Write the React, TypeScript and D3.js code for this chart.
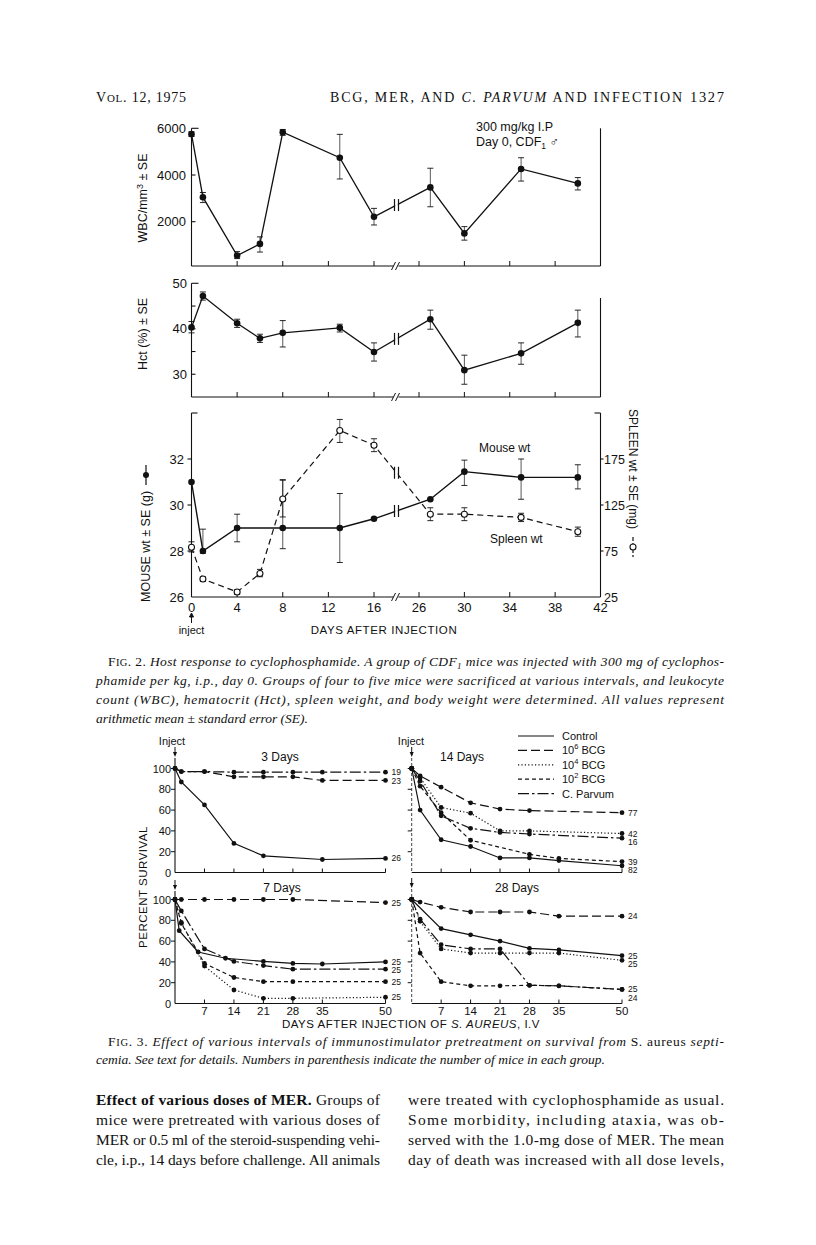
import React from "react";
import * as d3 from "d3";

// ---------------- Fig. 2 data ----------------
const fig2Days = [0, 1, 4, 6, 8, 13, 16, 27, 30, 35, 40];
const wbcMean = [5750, 3050, 550, 1050, 5830, 4740, 2210, 3470, 1500, 4260, 3640];
const wbcLow = [5650, 2820, 420, 700, 5700, 3830, 1860, 2640, 1210, 3740, 3360];
const wbcHigh = [5850, 3250, 720, 1350, 5950, 5740, 2570, 4290, 1790, 4740, 3890];
const hctMean = [40.3, 47.2, 41.2, 37.9, 39.1, 40.2, 34.9, 42.1, 30.9, 34.6, 41.3];
const hctLow = [39.1, 46.3, 40.3, 37.0, 36.0, 39.3, 32.9, 39.9, 27.8, 32.2, 38.2];
const hctHigh = [41.6, 48.1, 42.1, 38.8, 41.8, 41.0, 36.9, 44.1, 34.2, 36.9, 44.1];
const mouseDays = [0, 1, 4, 8, 13, 16, 27, 30, 35, 40];
const mouseMean = [31.0, 28.0, 29.0, 29.0, 29.0, 29.4, 30.25, 31.45, 31.2, 31.2];
const mouseLow = [31.0, 27.9, 28.4, 28.1, 27.5, 29.4, 30.25, 30.85, 30.25, 30.7];
const mouseHigh = [31.0, 28.95, 29.6, 31.1, 30.5, 29.4, 30.25, 31.95, 32.0, 31.75];
const spleenDays = [0, 1, 4, 6, 8, 13, 16, 27, 30, 35, 40];
const spleenMean = [79, 44.5, 30.5, 50.5, 131.5, 206, 190, 115, 115, 111.5, 96];
const spleenLow = [74, 42, 28, 47, 112, 193, 183, 108, 108, 107, 91];
const spleenHigh = [85, 47, 33, 55, 152, 218, 197, 122, 122, 116, 101];

const fig2XTicks = [0, 4, 8, 12, 16, 26, 30, 34, 38, 42];
const wbcTicks = [2000, 4000, 6000];
const hctTicks = [30, 35, 40, 45, 50];
const hctTickLabels = [30, 40, 50];
const mouseTicks = [26, 28, 30, 32];
const spleenTicks = [25, 75, 125, 175];

// ---------------- Fig. 3 data ----------------
const survTicks = [0, 20, 40, 60, 80, 100];
const dayTicks = [7, 14, 21, 28, 35, 50];

// 3 days
const d3Control: [number, number][] = [[0, 100], [1.5, 87], [7, 65], [14, 28], [21, 16], [35, 12.5], [50, 13.5]];
const d3Bcg6: [number, number][] = [[0, 100], [1.5, 97], [7, 97], [14, 92], [21, 92], [28, 92], [35, 88.5], [50, 88.5]];
const d3CParvum: [number, number][] = [[0, 100], [1.5, 97], [7, 97], [14, 96.5], [21, 96.5], [28, 96.5], [35, 96.5], [50, 96.5]];
const d3Labels = ["26", "23", "19"];

// 14 days
const d14Control: [number, number][] = [[0, 100], [2, 60], [7, 31.5], [14, 25], [21, 14], [28, 14], [35, 11.5], [50, 6.5]];
const d14Bcg6: [number, number][] = [[0, 100], [2, 93], [7, 82], [14, 67], [21, 61], [28, 59.5], [50, 57.5]];
const d14Bcg4: [number, number][] = [[0, 100], [2, 91], [7, 62.5], [14, 57], [21, 40], [28, 40], [50, 37.5]];
const d14Bcg2: [number, number][] = [[0, 100], [2, 83], [7, 57.5], [14, 31], [28, 17.5], [35, 13.5], [50, 10.5]];
const d14CParvum: [number, number][] = [[0, 100], [2, 88], [7, 54.5], [14, 42.5], [21, 38.5], [28, 37], [50, 33]];
const d14Labels = ["82", "77", "42", "39", "16"];

// 7 days
const d7Control: [number, number][] = [[0, 100], [1, 70], [5.5, 49.5], [12, 43.5], [21, 40.5], [28, 38.5], [35, 38], [50, 40]];
const d7Bcg6: [number, number][] = [[0, 100], [1.5, 100], [7, 100], [14, 100], [21, 100], [28, 100], [50, 97]];
const d7Bcg4: [number, number][] = [[0, 100], [1.5, 78], [7, 36], [14, 13], [21, 5], [28, 5], [50, 6]];
const d7Bcg2: [number, number][] = [[0, 100], [1.5, 77], [7, 38.5], [14, 25], [21, 21], [28, 21], [50, 21]];
const d7CParvum: [number, number][] = [[0, 100], [1.5, 89], [7, 52.5], [14, 40.5], [21, 36.5], [28, 33], [50, 33]];
const d7Labels = ["25", "25", "25", "25", "25"];

// 28 days
const d28Control: [number, number][] = [[0, 100], [7, 72], [14, 66], [21, 60], [28, 53], [35, 51.5], [50, 46]];
const d28Bcg6: [number, number][] = [[0, 100], [2, 97.5], [7, 92.5], [14, 88], [21, 88], [28, 88], [35, 84], [50, 84]];
const d28Bcg4: [number, number][] = [[0, 100], [2, 79], [7, 52.5], [14, 48.5], [21, 48.5], [28, 48.5], [35, 48.5], [50, 41.5]];
const d28Bcg2: [number, number][] = [[0, 100], [2, 48.5], [7, 21], [14, 17], [21, 17], [28, 17.5], [35, 17], [50, 13.5]];
const d28CParvum: [number, number][] = [[0, 100], [2, 81], [7, 56.5], [14, 52.5], [21, 52.5], [28, 17.5], [35, 17], [50, 13.5]];
const d28Labels = ["25", "24", "25", "25", "24"];

const legendKeys = ["control", "bcg6", "bcg4", "bcg2", "cparvum"];
const legendNames = ["Control", "10|6| BCG", "10|4| BCG", "10|2| BCG", "C. Parvum"];

// ---------------- styles ----------------
const SANS = "'Liberation Sans', Arial, Helvetica, sans-serif";
const SERIF = "'Liberation Serif', 'Times New Roman', serif";
const INK = "#111";
const DASH: Record<string, string | undefined> = {
  control: undefined,
  bcg6: "9,4",
  bcg4: "1.2,2.2",
  bcg2: "4,3",
  cparvum: "11,3,2.5,3",
};

// ---------------- scales ----------------
const xF2 = d3.scaleLinear().domain([0, 16, 26, 42]).range([191.5, 374, 419, 600.5]);
const yWbc = d3.scaleLinear().domain([0, 6000]).range([268.4, 128.3]);
const yHct = d3.scaleLinear().domain([25, 50]).range([397, 283.3]);
const yMouse = d3.scaleLinear().domain([26, 34]).range([597, 413]);
const ySpleen = d3.scaleLinear().domain([25, 225]).range([597, 413]);

const xLeft = d3.scaleLinear().domain([0, 50]).range([175, 385.5]);
const xRight = d3.scaleLinear().domain([0, 50]).range([411.7, 622]);
const yTopRow = d3.scaleLinear().domain([0, 100]).range([872.5, 768.5]);
const yBotRow = d3.scaleLinear().domain([0, 100]).range([1003.5, 899.5]);

const breakX = (xF2(16) + xF2(26)) / 2;

function ErrBars({ days, low, high, ys }: { days: number[]; low: number[]; high: number[]; ys: d3.ScaleLinear<number, number> }) {
  return (
    <g stroke={INK} strokeWidth={0.9}>
      {days.map((d, i) => {
        if (high[i] - low[i] < 1e-6) return null;
        const x = xF2(d);
        return (
          <g key={i}>
            <line x1={x} x2={x} y1={ys(low[i])} y2={ys(high[i])} strokeWidth={0.7} />
            <line x1={x - 3} x2={x + 3} y1={ys(low[i])} y2={ys(low[i])} />
            <line x1={x - 3} x2={x + 3} y1={ys(high[i])} y2={ys(high[i])} />
          </g>
        );
      })}
    </g>
  );
}

function LineBreak({ days, vals, ys }: { days: number[]; vals: number[]; ys: d3.ScaleLinear<number, number> }) {
  const i = days.findIndex((d) => d > 20);
  const x1 = xF2(days[i - 1]);
  const y1 = ys(vals[i - 1]);
  const x2 = xF2(days[i]);
  const y2 = ys(vals[i]);
  const t = (breakX - x1) / (x2 - x1);
  const yb = y1 + t * (y2 - y1);
  return (
    <g stroke={INK} strokeWidth={1.2}>
      <rect x={breakX - 1.3} y={yb - 4} width={2.6} height={8} fill="#fff" stroke="none" />
      <line x1={breakX - 2} x2={breakX - 2} y1={yb - 6} y2={yb + 6} />
      <line x1={breakX + 2} x2={breakX + 2} y1={yb - 6} y2={yb + 6} />
    </g>
  );
}

function AxisBreak({ y }: { y: number }) {
  return (
    <g stroke={INK} strokeWidth={1}>
      <rect x={breakX - 3} y={y - 2} width={5} height={4} fill="#fff" stroke="none" />
      <line x1={breakX - 5} y1={y + 4} x2={breakX - 1} y2={y - 4} />
      <line x1={breakX - 1} y1={y + 4} x2={breakX + 3} y2={y - 4} />
    </g>
  );
}

function XTicks({ y }: { y: number }) {
  return (
    <g stroke={INK} strokeWidth={1}>
      {fig2XTicks.slice(1, -1).map((t) => (
        <line key={t} x1={xF2(t)} x2={xF2(t)} y1={y} y2={y - 5} />
      ))}
    </g>
  );
}

function Fig2() {
  const wbcLine = d3.line<number>().x((_, i) => xF2(fig2Days[i])).y((d) => yWbc(d))(wbcMean) || "";
  const hctLine = d3.line<number>().x((_, i) => xF2(fig2Days[i])).y((d) => yHct(d))(hctMean) || "";
  const mouseLine = d3.line<number>().x((_, i) => xF2(mouseDays[i])).y((d) => yMouse(d))(mouseMean) || "";
  const spleenLine = d3.line<number>().x((_, i) => xF2(spleenDays[i])).y((d) => ySpleen(d))(spleenMean) || "";
  const L = xF2(0);
  const R = xF2(42);
  const wbcAxisY = 266;
  const hctAxisY = yHct(25);
  const botAxisY = yMouse(26);
  return (
    <g fontFamily={SANS} fill={INK}>
      {/* ---- WBC panel ---- */}
      <g stroke={INK} strokeWidth={1.1} fill="none">
        <line x1={L} x2={L} y1={yWbc(6000)} y2={wbcAxisY} />
        <line x1={L} x2={R} y1={wbcAxisY} y2={wbcAxisY} />
        <line x1={R} x2={R} y1={yWbc(6000)} y2={wbcAxisY} />
        {wbcTicks.map((t) => (
          <line key={t} x1={L} x2={L + (t === 6000 ? 7 : 4)} y1={yWbc(t)} y2={yWbc(t)} />
        ))}
      </g>
      <XTicks y={wbcAxisY} />
      <AxisBreak y={wbcAxisY} />
      {wbcTicks.map((t) => (
        <text key={t} x={186} y={yWbc(t) + 4.5} fontSize={13} textAnchor="end">{t}</text>
      ))}
      <text transform={`translate(147,${198}) rotate(-90)`} fontSize={12.5} textAnchor="middle">
        WBC/mm<tspan dy={-4} fontSize={9}>3</tspan><tspan dy={4}> ± SE</tspan>
      </text>
      <ErrBars days={fig2Days} low={wbcLow} high={wbcHigh} ys={yWbc} />
      <path d={wbcLine} fill="none" stroke={INK} strokeWidth={1.3} />
      <LineBreak days={fig2Days} vals={wbcMean} ys={yWbc} />
      {fig2Days.map((d, i) => (
        <circle key={i} cx={xF2(d)} cy={yWbc(wbcMean[i])} r={3.3} fill={INK} />
      ))}
      <text x={476} y={131} fontSize={12.5}>300 mg/kg I.P</text>
      <text x={476} y={146} fontSize={12.5}>
        Day 0, CDF<tspan dy={3} fontSize={8.5}>1</tspan><tspan dy={-3}> ♂</tspan>
      </text>

      {/* ---- Hct panel ---- */}
      <g stroke={INK} strokeWidth={1.1} fill="none">
        <line x1={L} x2={L} y1={yHct(50)} y2={hctAxisY} />
        <line x1={L} x2={R} y1={hctAxisY} y2={hctAxisY} />
        <line x1={R} x2={R} y1={298} y2={hctAxisY} />
        {hctTicks.map((t) => (
          <line key={t} x1={L} x2={L + (t === 50 ? 7 : 4)} y1={yHct(t)} y2={yHct(t)} />
        ))}
      </g>
      <XTicks y={hctAxisY} />
      <AxisBreak y={hctAxisY} />
      {hctTickLabels.map((t) => (
        <text key={t} x={187} y={yHct(t) + 4.5} fontSize={13} textAnchor="end">{t}</text>
      ))}
      <text transform={`translate(147,${334}) rotate(-90)`} fontSize={12.5} textAnchor="middle">
        Hct (%) ± SE
      </text>
      <ErrBars days={fig2Days} low={hctLow} high={hctHigh} ys={yHct} />
      <path d={hctLine} fill="none" stroke={INK} strokeWidth={1.3} />
      <LineBreak days={fig2Days} vals={hctMean} ys={yHct} />
      {fig2Days.map((d, i) => (
        <circle key={i} cx={xF2(d)} cy={yHct(hctMean[i])} r={3.3} fill={INK} />
      ))}

      {/* ---- Mouse / spleen panel ---- */}
      <g stroke={INK} strokeWidth={1.1} fill="none">
        <line x1={L} x2={L} y1={yMouse(34)} y2={botAxisY} />
        <line x1={L} x2={R} y1={botAxisY} y2={botAxisY} />
        <line x1={R} x2={R} y1={yMouse(34)} y2={botAxisY} />
        <line x1={L} x2={L + 6} y1={yMouse(34)} y2={yMouse(34)} />
        <line x1={R} x2={R - 6} y1={yMouse(34)} y2={yMouse(34)} />
        {mouseTicks.slice(1).map((t) => (
          <line key={t} x1={L} x2={L - 4} y1={yMouse(t)} y2={yMouse(t)} />
        ))}
        {spleenTicks.slice(1).map((t) => (
          <line key={t} x1={R} x2={R + 3} y1={ySpleen(t)} y2={ySpleen(t)} />
        ))}
      </g>
      <XTicks y={botAxisY} />
      <AxisBreak y={botAxisY} />
      {mouseTicks.map((t) => (
        <text key={t} x={184} y={yMouse(t) + 4.5} fontSize={13} textAnchor="end">{t}</text>
      ))}
      {spleenTicks.map((t) => (
        <text key={t} x={604} y={ySpleen(t) + 4.5} fontSize={12.5}>{t}</text>
      ))}
      {fig2XTicks.map((t) => (
        <text key={t} x={xF2(t)} y={612} fontSize={13} textAnchor="middle">{t}</text>
      ))}
      <text x={384} y={634} fontSize={11.5} textAnchor="middle" letterSpacing={0.6}>DAYS AFTER INJECTION</text>
      <text x={191.5} y={634} fontSize={11} textAnchor="middle">inject</text>
      <g stroke={INK} strokeWidth={1}>
        <line x1={191.5} x2={191.5} y1={614} y2={623} />
        <path d={`M${189.5},${617} L${191.5},${613} L${193.5},${617} Z`} fill={INK} />
      </g>
      {/* left axis label */}
      <g transform={`translate(146,${507}) rotate(-90)`}>
        <text x={-95} y={4} fontSize={12.5}>MOUSE wt ± SE (g)</text>
        <line x1={22} x2={42} y1={0} y2={0} stroke={INK} strokeWidth={1.2} />
        <circle cx={32} cy={0} r={3} fill={INK} />
      </g>
      {/* right axis label */}
      <g transform={`translate(633,${505}) rotate(90)`}>
        <text x={-96} y={4} fontSize={12}>SPLEEN wt ± SE (mg)</text>
        <line x1={32} x2={52} y1={0} y2={0} stroke={INK} strokeWidth={1.2} strokeDasharray="4,2" />
        <circle cx={42} cy={0} r={3} fill="#fff" stroke={INK} strokeWidth={1.1} />
      </g>
      <ErrBars days={spleenDays} low={spleenLow} high={spleenHigh} ys={ySpleen} />
      <ErrBars days={mouseDays} low={mouseLow} high={mouseHigh} ys={yMouse} />
      <path d={spleenLine} fill="none" stroke={INK} strokeWidth={1.2} strokeDasharray="6,4" />
      <path d={mouseLine} fill="none" stroke={INK} strokeWidth={1.4} />
      <LineBreak days={spleenDays} vals={spleenMean} ys={ySpleen} />
      <LineBreak days={mouseDays} vals={mouseMean} ys={yMouse} />
      {spleenDays.map((d, i) => (
        <circle key={i} cx={xF2(d)} cy={ySpleen(spleenMean[i])} r={3} fill="#fff" stroke={INK} strokeWidth={1.1} />
      ))}
      {mouseDays.map((d, i) => (
        <circle key={i} cx={xF2(d)} cy={yMouse(mouseMean[i])} r={3.3} fill={INK} />
      ))}
      <text x={479} y={452} fontSize={12}>Mouse wt</text>
      <text x={490} y={543} fontSize={12}>Spleen wt</text>
    </g>
  );
}

type Ser = { key: string; pts: [number, number][]; label: string };

function SurvPanel({
  xs, ys, series, title, titleX, solid, showXLabels, showYLabels, arrowTop,
}: {
  xs: d3.ScaleLinear<number, number>; ys: d3.ScaleLinear<number, number>; series: Ser[];
  title: string; titleX: number; solid: boolean; showXLabels: boolean; showYLabels: boolean; arrowTop: number;
}) {
  const x0 = xs(0);
  const y0 = ys(0);
  const line = d3.line<[number, number]>().x((d) => xs(d[0])).y((d) => ys(d[1]));
  const labs = series
    .map((s) => ({ text: s.label, y: ys(s.pts[s.pts.length - 1][1]) + 3 }))
    .sort((a, b) => a.y - b.y);
  for (let i = 1; i < labs.length; i++) if (labs[i].y - labs[i - 1].y < 8.5) labs[i].y = labs[i - 1].y + 8.5;
  return (
    <g fontFamily={SANS} fill={INK}>
      <line x1={x0} x2={x0} y1={arrowTop + 11} y2={y0} stroke={INK} strokeWidth={solid ? 1.1 : 0.8} strokeDasharray={solid ? undefined : "3,2"} />
      <line x1={x0} x2={xs(50)} y1={y0} y2={y0} stroke={INK} strokeWidth={1.1} />
      {dayTicks.map((t) => (
        <line key={t} x1={xs(t)} x2={xs(t)} y1={y0} y2={y0 - 4} stroke={INK} strokeWidth={1} />
      ))}
      {survTicks.slice(1).map((t) => (
        <line key={t} x1={x0} x2={x0 - 4} y1={ys(t)} y2={ys(t)} stroke={INK} strokeWidth={1} />
      ))}
      <line x1={x0} x2={x0} y1={arrowTop} y2={arrowTop + 8} stroke={INK} strokeWidth={1} />
      <path d={`M${x0 - 2},${arrowTop + 5} L${x0},${arrowTop + 10} L${x0 + 2},${arrowTop + 5} Z`} fill={INK} />
      {showYLabels &&
        survTicks.map((t) => (
          <text key={t} x={x0 - 4} y={ys(t) + 4} fontSize={11} textAnchor="end">{t}</text>
        ))}
      {showXLabels &&
        dayTicks.map((t) => (
          <text key={t} x={xs(t)} y={1015} fontSize={11.5} textAnchor="middle">{t}</text>
        ))}
      <text x={titleX} y={ys(100) - 8} fontSize={12} textAnchor="middle">{title}</text>
      {series.map((s) => (
        <path key={s.key} d={line(s.pts) || ""} fill="none" stroke={INK} strokeWidth={1.2} strokeDasharray={DASH[s.key]} />
      ))}
      {series.map((s) =>
        s.pts.map((p, i) => <circle key={s.key + i} cx={xs(p[0])} cy={ys(p[1])} r={2.4} fill={INK} />)
      )}
      {labs.map((l, i) => (
        <text key={i} x={xs(50) + 6} y={l.y} fontSize={8.5}>{l.text}</text>
      ))}
    </g>
  );
}

function Fig3() {
  const p3: Ser[] = [
    { key: "control", pts: d3Control, label: d3Labels[0] },
    { key: "bcg6", pts: d3Bcg6, label: d3Labels[1] },
    { key: "cparvum", pts: d3CParvum, label: d3Labels[2] },
  ];
  const p14: Ser[] = [
    { key: "control", pts: d14Control, label: d14Labels[0] },
    { key: "bcg6", pts: d14Bcg6, label: d14Labels[1] },
    { key: "bcg4", pts: d14Bcg4, label: d14Labels[2] },
    { key: "bcg2", pts: d14Bcg2, label: d14Labels[3] },
    { key: "cparvum", pts: d14CParvum, label: d14Labels[4] },
  ];
  const p7: Ser[] = [
    { key: "control", pts: d7Control, label: d7Labels[0] },
    { key: "bcg6", pts: d7Bcg6, label: d7Labels[1] },
    { key: "bcg4", pts: d7Bcg4, label: d7Labels[2] },
    { key: "bcg2", pts: d7Bcg2, label: d7Labels[3] },
    { key: "cparvum", pts: d7CParvum, label: d7Labels[4] },
  ];
  const p28: Ser[] = [
    { key: "control", pts: d28Control, label: d28Labels[0] },
    { key: "bcg6", pts: d28Bcg6, label: d28Labels[1] },
    { key: "bcg4", pts: d28Bcg4, label: d28Labels[2] },
    { key: "bcg2", pts: d28Bcg2, label: d28Labels[3] },
    { key: "cparvum", pts: d28CParvum, label: d28Labels[4] },
  ];
  return (
    <g fontFamily={SANS} fill={INK}>
      <text x={172} y={745} fontSize={11} textAnchor="middle">Inject</text>
      <text x={411} y={745} fontSize={11} textAnchor="middle">Inject</text>
      <SurvPanel xs={xLeft} ys={yTopRow} series={p3} title="3 Days" titleX={280} solid showXLabels={false} showYLabels arrowTop={747} />
      <SurvPanel xs={xRight} ys={yTopRow} series={p14} title="14 Days" titleX={462} solid={false} showXLabels={false} showYLabels={false} arrowTop={747} />
      <SurvPanel xs={xLeft} ys={yBotRow} series={p7} title="7 Days" titleX={282} solid showXLabels showYLabels arrowTop={880} />
      <SurvPanel xs={xRight} ys={yBotRow} series={p28} title="28 Days" titleX={517} solid={false} showXLabels showYLabels={false} arrowTop={878} />
      <text transform={`translate(147,${887}) rotate(-90)`} fontSize={11.5} textAnchor="middle" letterSpacing={0.5}>PERCENT SURVIVAL</text>
      <text x={411} y={1028} fontSize={11.5} textAnchor="middle" letterSpacing={0.5}>
        DAYS AFTER INJECTION OF <tspan fontStyle="italic">S. AUREUS</tspan>, I.V
      </text>
      {/* legend */}
      {legendKeys.map((k, i) => {
        const y = 736 + i * 14.4;
        const parts = legendNames[i].split("|");
        return (
          <g key={k}>
            <line x1={518} x2={554} y1={y} y2={y} stroke={INK} strokeWidth={1.2} strokeDasharray={DASH[k]} />
            <text x={562} y={y + 4} fontSize={11}>
              {parts.length === 1 ? (
                parts[0]
              ) : (
                <>
                  {parts[0]}
                  <tspan dy={-5} fontSize={7.5}>{parts[1]}</tspan>
                  <tspan dy={5}>{parts[2]}</tspan>
                </>
              )}
            </text>
          </g>
        );
      })}
    </g>
  );
}

function Texts() {
  const capStyle = { fontFamily: SERIF, fontSize: 13.5, fill: INK } as const;
  const bodyStyle = { fontFamily: SERIF, fontSize: 15.5, fill: INK } as const;
  return (
    <g>
      {/* header */}
      <text x={96} y={102} fontFamily={SERIF} fontSize={14} fill={INK} textLength={90} lengthAdjust="spacing">
        V<tspan fontSize={11}>OL</tspan>. 12, 1975
      </text>
      <text x={330} y={102} fontFamily={SERIF} fontSize={14} fill={INK} textLength={352} lengthAdjust="spacing">
        BCG, MER, AND <tspan fontStyle="italic">C. PARVUM</tspan> AND INFECTION
      </text>
      <text x={690} y={102} fontFamily={SERIF} fontSize={14.5} fill={INK} textLength={34} lengthAdjust="spacing">1327</text>

      {/* Fig 2 caption */}
      <text x={108} y={666} {...capStyle} textLength={616} lengthAdjust="spacing">
        F<tspan fontSize={10.5}>IG</tspan>. 2. <tspan fontStyle="italic">Host response to cyclophosphamide. A group of CDF</tspan>
        <tspan fontStyle="italic" fontSize={9} dy={3}>1</tspan>
        <tspan fontStyle="italic" dy={-3}> mice was injected with 300 mg of cyclophos-</tspan>
      </text>
      <text x={96} y={685} {...capStyle} fontStyle="italic" textLength={628} lengthAdjust="spacing">
        phamide per kg, i.p., day 0. Groups of four to five mice were sacrificed at various intervals, and leukocyte
      </text>
      <text x={96} y={704} {...capStyle} fontStyle="italic" textLength={628} lengthAdjust="spacing">
        count (WBC), hematocrit (Hct), spleen weight, and body weight were determined. All values represent
      </text>
      <text x={96} y={723} {...capStyle} fontStyle="italic">
        arithmetic mean ± standard error (SE).
      </text>

      {/* Fig 3 caption */}
      <text x={108} y={1046} {...capStyle} textLength={616} lengthAdjust="spacing">
        F<tspan fontSize={10.5}>IG</tspan>. 3.{" "}
        <tspan fontStyle="italic">Effect of various intervals of immunostimulator pretreatment on survival from </tspan>
        S. aureus<tspan fontStyle="italic"> septi-</tspan>
      </text>
      <text x={96} y={1064} {...capStyle} fontStyle="italic">
        cemia. See text for details. Numbers in parenthesis indicate the number of mice in each group.
      </text>

      {/* body left column */}
      <text x={96} y={1105} {...bodyStyle} textLength={284} lengthAdjust="spacing">
        <tspan fontWeight="bold">Effect of various doses of MER.</tspan> Groups of
      </text>
      <text x={96} y={1125} {...bodyStyle} textLength={284} lengthAdjust="spacing">
        mice were pretreated with various doses of
      </text>
      <text x={96} y={1145} {...bodyStyle} textLength={284} lengthAdjust="spacing">
        MER or 0.5 ml of the steroid-suspending vehi-
      </text>
      <text x={96} y={1165} {...bodyStyle} textLength={284} lengthAdjust="spacing">
        cle, i.p., 14 days before challenge. All animals
      </text>
      {/* body right column */}
      <text x={408} y={1105} {...bodyStyle} textLength={316} lengthAdjust="spacing">
        were treated with cyclophosphamide as usual.
      </text>
      <text x={408} y={1125} {...bodyStyle} textLength={316} lengthAdjust="spacing">
        Some morbidity, including ataxia, was ob-
      </text>
      <text x={408} y={1145} {...bodyStyle} textLength={316} lengthAdjust="spacing">
        served with the 1.0-mg dose of MER. The mean
      </text>
      <text x={408} y={1165} {...bodyStyle} textLength={316} lengthAdjust="spacing">
        day of death was increased with all dose levels,
      </text>
    </g>
  );
}

export default function App() {
  return (
    <svg
      width={816}
      height={1245}
      viewBox="0 0 816 1245"
      style={{ position: "absolute", left: 0, top: 0, background: "#fff" }}
    >
      <rect x={0} y={0} width={816} height={1245} fill="#fff" />
      <Texts />
      <Fig2 />
      <Fig3 />
    </svg>
  );
}
